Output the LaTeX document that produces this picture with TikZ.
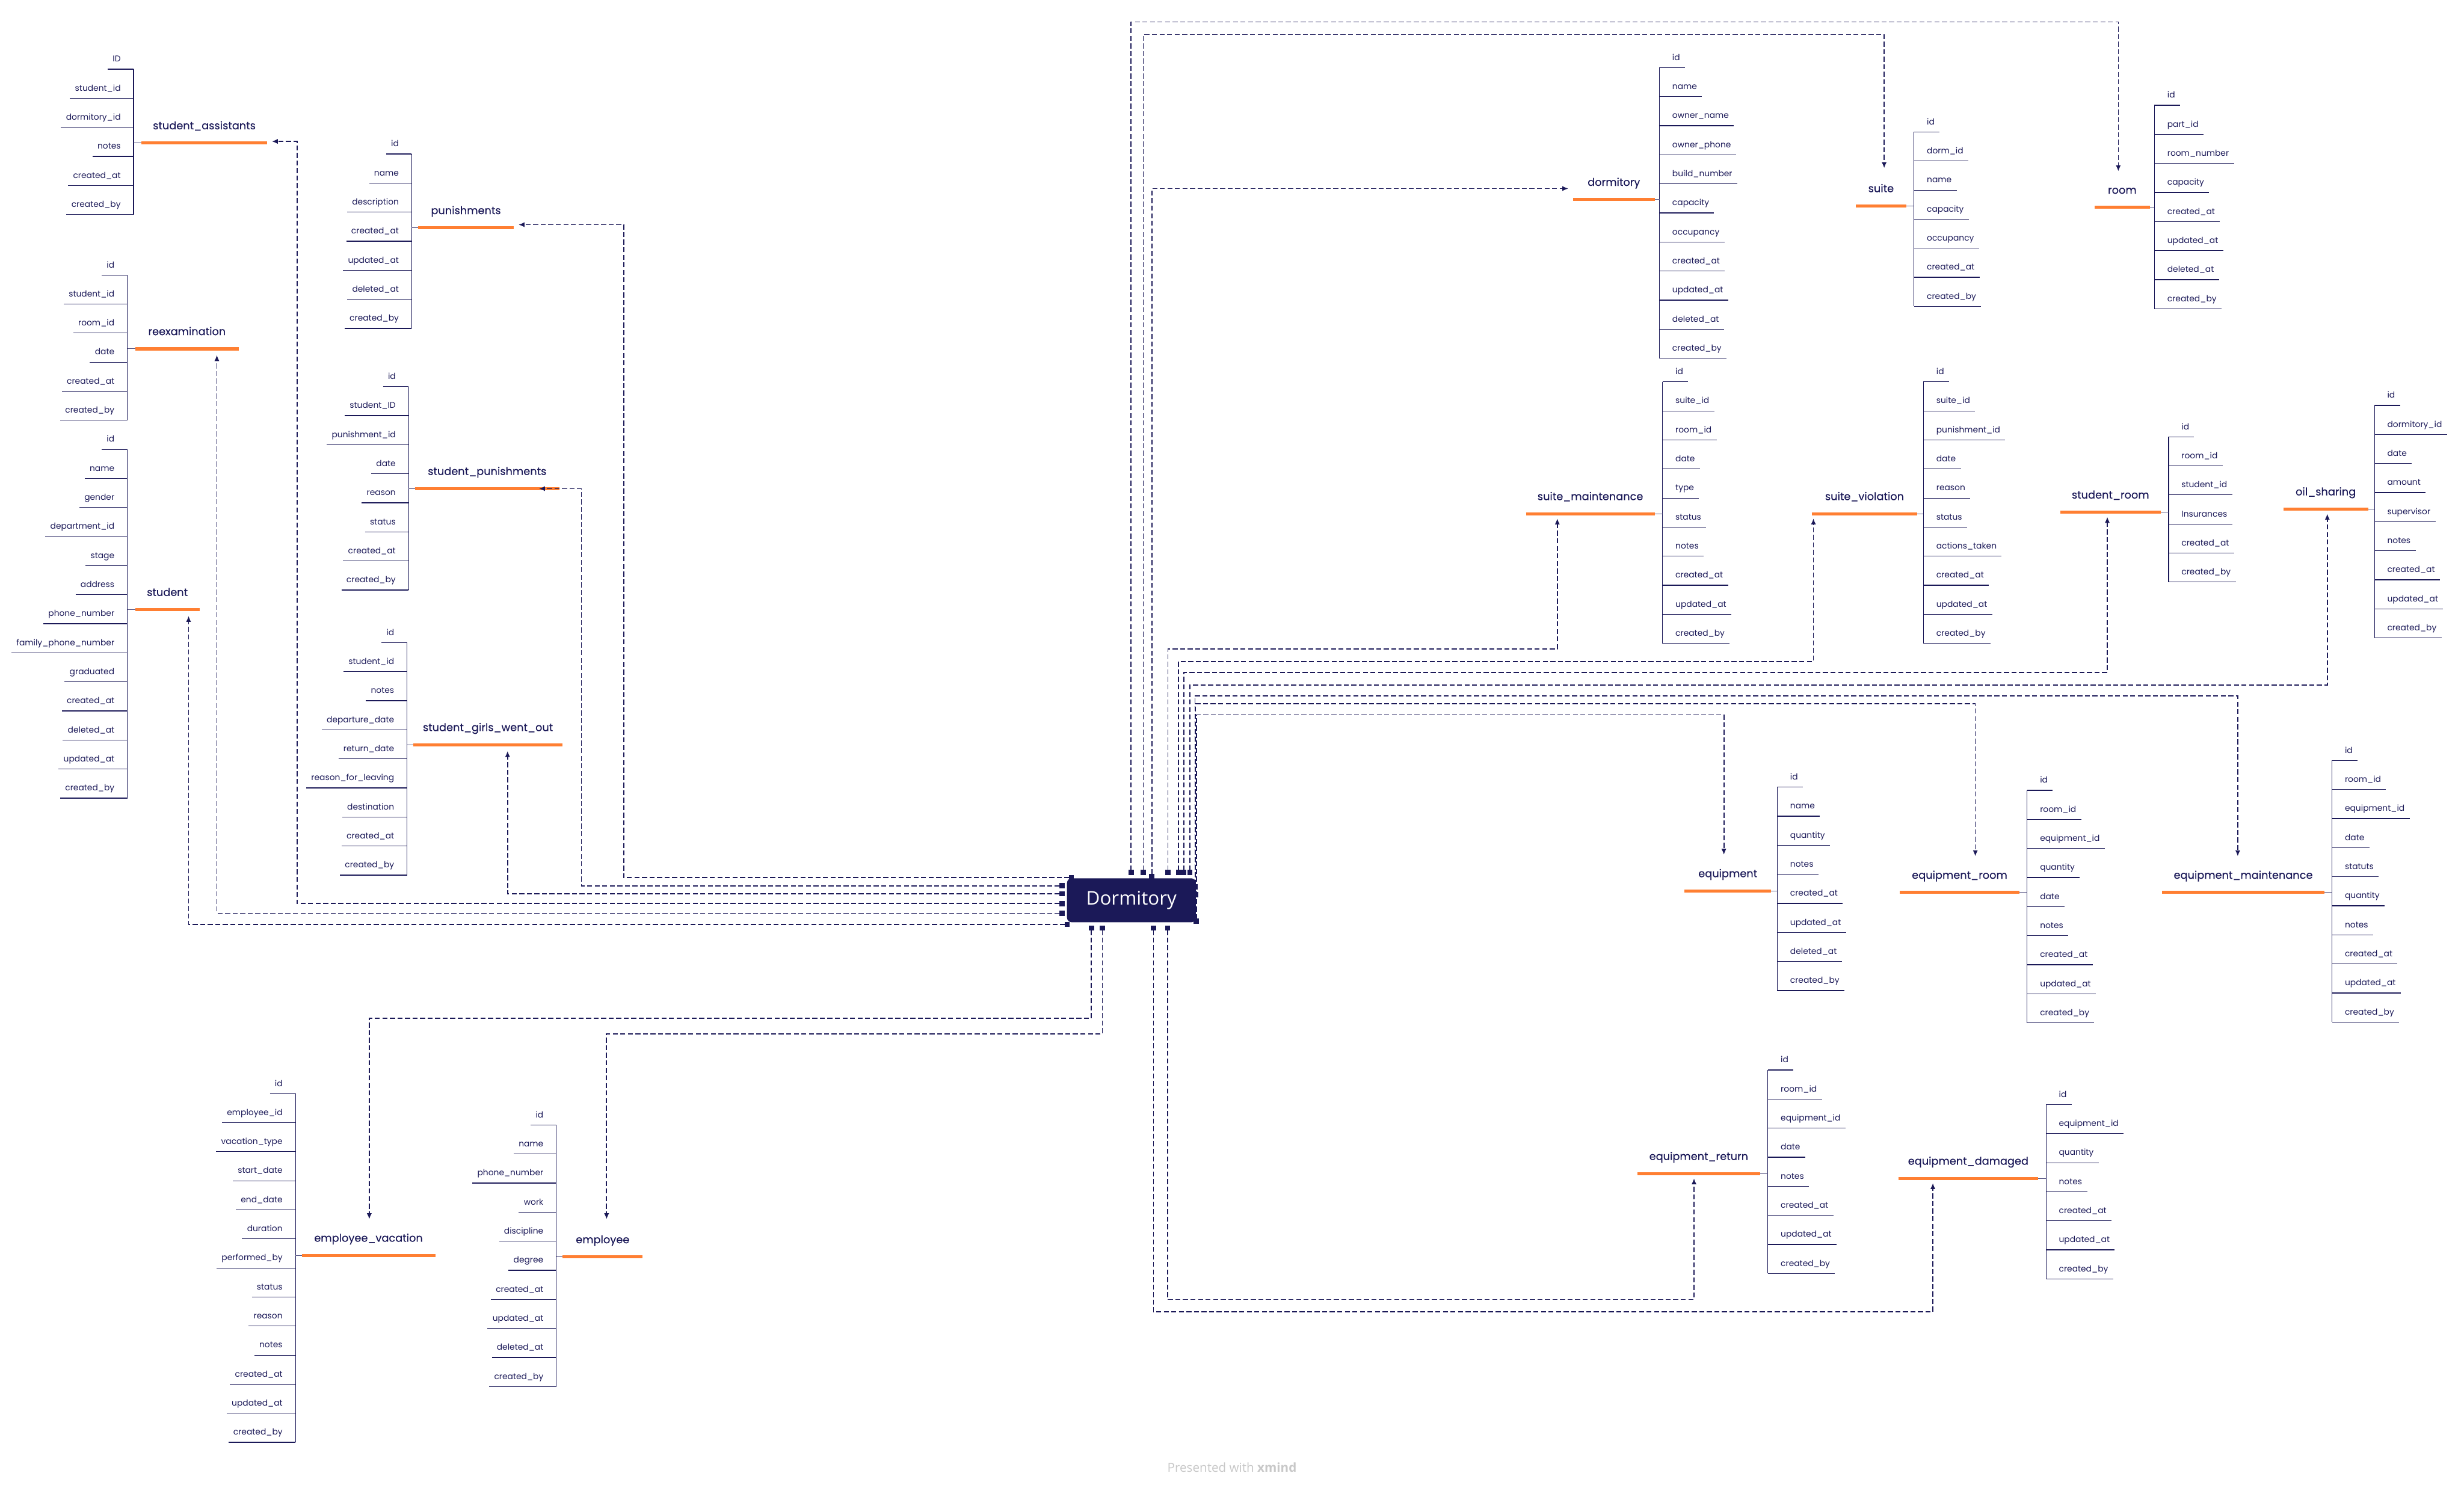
\documentclass[tikz,border=0pt]{standalone}
\usepackage{fontspec}
\setmainfont{Poppins}
\newfontfamily\titlefont{Poppins}[FakeBold=0.25]
\newfontfamily\nodefont{Open Sans}
\usetikzlibrary{arrows.meta,calc}
\definecolor{navy}{RGB}{27,25,88}
\definecolor{barorange}{RGB}{255,127,50}
\definecolor{footergray}{RGB}{200,200,200}

\tikzset{
  fieldtxt/.style={inner sep=0pt, text height=4pt, text depth=1.3pt, font=\fontsize{5.3}{6}\selectfont, text=navy},
  titletxt/.style={inner sep=0pt, text height=5.2pt, text depth=1.6pt, font=\titlefont\fontsize{6.8}{8}\selectfont, text=navy},
  fline/.style={draw=navy, line width=0.45pt},
  barline/.style={draw=barorange, line width=2pt},
  joinline/.style={draw=navy!75, line width=0.4pt},
  rel/.style={draw=navy, line width=0.65pt, dash pattern=on 3.2pt off 1.6pt,
    {Square[length=3.3pt,width=3.3pt]}-{Latex[length=3.8pt,width=3.2pt]}},
  central/.style={fill=navy, rounded corners=3pt, minimum width=82pt, minimum height=28pt,
    text=white, font=\nodefont\fontsize{12}{14}\selectfont, inner sep=0pt},
  footertxt/.style={font=\nodefont\fontsize{7.9}{9}\selectfont, text=footergray, inner sep=0pt},
}

% right table: #1 id, #2 spineX, #3 firstY, #4 fields, #5 title, #6 barL, #7 barR, #8 barY
\newcommand\rtab[8]{%
  \foreach \f [count=\i from 0] in {#4} {
    \node[fieldtxt, anchor=west] (#1-\i) at ({#2+8},{#3+18.5*\i}) {\f};
    \draw[fline] ({#2},{#3+18.5*\i+6}) -- ($(#1-\i.east)+(3,6)$);
    \xdef\lastrow{\i}
  }
  \draw[fline] ({#2},{#3+6}) -- ({#2},{#3+18.5*\lastrow+6});
  \draw[barline] (#6,#8) -- (#7,#8);
  \draw[joinline] (#7,#8) -- (#2,#8);
  \node[titletxt] (#1-title) at ({(#6+#7)/2},{#8-10.5}) {#5};
}
% left table
\newcommand\ltab[8]{%
  \foreach \f [count=\i from 0] in {#4} {
    \node[fieldtxt, anchor=east] (#1-\i) at ({#2-8},{#3+18.5*\i}) {\f};
    \draw[fline] ($(#1-\i.west)+(-3,6)$) -- ({#2},{#3+18.5*\i+6});
    \xdef\lastrow{\i}
  }
  \draw[fline] ({#2},{#3+6}) -- ({#2},{#3+18.5*\lastrow+6});
  \draw[barline] (#6,#8) -- (#7,#8);
  \draw[joinline] (#2,#8) -- (#6,#8);
  \node[titletxt] (#1-title) at ({(#6+#7)/2},{#8-10.5}) {#5};
}

\begin{document}
\begin{tikzpicture}[x=1pt,y=-1pt]
\fill[white] (0,0) rectangle (1568,945);
\useasboundingbox (0,0) rectangle (1568,945);

% ---------- right tables ----------
\rtab{dorm}{1056}{37}{id,name,owner\_name,owner\_phone,build\_number,capacity,occupancy,created\_at,updated\_at,deleted\_at,created\_by}{dormitory}{1001}{1053}{127}
\rtab{suite}{1218}{78}{id,dorm\_id,name,capacity,occupancy,created\_at,created\_by}{suite}{1181}{1213}{131}
\rtab{room}{1371}{61}{id,part\_id,room\_number,capacity,created\_at,updated\_at,deleted\_at,created\_by}{room}{1333}{1368}{132}
\rtab{sm}{1058}{237}{id,suite\_id,room\_id,date,type,status,notes,created\_at,updated\_at,created\_by}{suite\_maintenance}{971}{1053}{327}
\rtab{sv}{1224}{237}{id,suite\_id,punishment\_id,date,reason,status,actions\_taken,created\_at,updated\_at,created\_by}{suite\_violation}{1153}{1220}{327}
\rtab{sr}{1380}{272}{id,room\_id,student\_id,Insurances,created\_at,created\_by}{student\_room}{1311}{1375}{326}
\rtab{oil}{1511}{252}{id,dormitory\_id,date,amount,supervisor,notes,created\_at,updated\_at,created\_by}{oil\_sharing}{1453}{1507}{324}
\rtab{eq}{1131}{495}{id,name,quantity,notes,created\_at,updated\_at,deleted\_at,created\_by}{equipment}{1072}{1127}{567}
\rtab{erm}{1290}{497}{id,room\_id,equipment\_id,quantity,date,notes,created\_at,updated\_at,created\_by}{equipment\_room}{1209}{1285}{568}
\rtab{em}{1484}{478}{id,room\_id,equipment\_id,date,statuts,quantity,notes,created\_at,updated\_at,created\_by}{equipment\_maintenance}{1376}{1479}{568}
\rtab{eret}{1125}{675}{id,room\_id,equipment\_id,date,notes,created\_at,updated\_at,created\_by}{equipment\_return}{1042}{1120}{747}
\rtab{ed}{1302}{697}{id,equipment\_id,quantity,notes,created\_at,updated\_at,created\_by}{equipment\_damaged}{1208}{1297}{750}

% ---------- left tables ----------
\ltab{sa}{85}{38}{ID,student\_id,dormitory\_id,notes,created\_at,created\_by}{student\_assistants}{90}{170}{91}
\ltab{pun}{262}{92}{id,name,description,created\_at,updated\_at,deleted\_at,created\_by}{punishments}{266}{327}{145}
\ltab{reex}{81}{169}{id,student\_id,room\_id,date,created\_at,created\_by}{reexamination}{86}{152}{222}
\ltab{stud}{81}{280}{id,name,gender,department\_id,stage,address,phone\_number,family\_phone\_number,graduated,created\_at,deleted\_at,updated\_at,created\_by}{student}{86}{127}{388}
\ltab{spun}{260}{240}{id,student\_ID,punishment\_id,date,reason,status,created\_at,created\_by}{student\_punishments}{264}{356}{311}
\ltab{sgwo}{259}{403}{id,student\_id,notes,departure\_date,return\_date,reason\_for\_leaving,destination,created\_at,created\_by}{student\_girls\_went\_out}{263}{358}{474}
\ltab{ev}{188}{690}{id,employee\_id,vacation\_type,start\_date,end\_date,duration,performed\_by,status,reason,notes,created\_at,updated\_at,created\_by}{employee\_vacation}{192}{277}{799}
\ltab{emp}{354}{710}{id,name,phone\_number,work,discipline,degree,created\_at,updated\_at,deleted\_at,created\_by}{employee}{358}{409}{800}

% ---------- central node ----------
\node[central] (D) at (720,573) {Dormitory};

% connector start points (on the central node)
\coordinate (s-pun)  at (683.5,558.6);
\coordinate (s-spun) at (677.4,563.8);
\coordinate (s-sgwo) at (677.4,568.9);
\coordinate (s-sa)   at (677.4,575.1);
\coordinate (s-reex) at (677.4,581.3);
\coordinate (s-stud) at (680.8,588.4);
\coordinate (s-room) at (719.8,557);
\coordinate (s-suite) at (727.5,557);
\coordinate (s-dorm) at (733,559.5);
\coordinate (s-sm)   at (743.2,557);
\coordinate (s-sv)   at (750,557);
\coordinate (s-sr)   at (753.3,557);
\coordinate (s-oil)  at (757.2,557);
\coordinate (s-em)   at (760.4,566);
\coordinate (s-erm)  at (760.8,571);
\coordinate (s-eq)   at (761.3,588);
\coordinate (s-ev)   at (694.5,589);
\coordinate (s-emp)  at (701.5,589);
\coordinate (s-ed)   at (734,589);
\coordinate (s-eret) at (743,589);

% connector end points (at the tables' bars)
\coordinate (e-pun)  at (330,143);
\coordinate (e-spun) at (343,311);
\coordinate (e-sgwo) at (323,478);
\coordinate (e-sa)   at (173,90);
\coordinate (e-reex) at (138,226);
\coordinate (e-stud) at (120,392);
\coordinate (e-room) at (1348,109);
\coordinate (e-suite) at (1199,107);
\coordinate (e-dorm) at (998,120);
\coordinate (e-sm)   at (991,330);
\coordinate (e-sv)   at (1154,330);
\coordinate (e-sr)   at (1341,329);
\coordinate (e-oil)  at (1481,327);
\coordinate (e-em)   at (1424,545);
\coordinate (e-erm)  at (1257,545);
\coordinate (e-eq)   at (1097,544);
\coordinate (e-ev)   at (235,776);
\coordinate (e-emp)  at (386,776);
\coordinate (e-ed)   at (1230,753);
\coordinate (e-eret) at (1078,750);

% ---------- connectors ----------
\draw[rel] (s-pun)  -- ++(-286.5,0) |- (e-pun);
\draw[rel] (s-spun) -- ++(-307.4,0) |- (e-spun);
\draw[rel] (s-sgwo) -| (e-sgwo);
\draw[rel] (s-sa)   -- ++(-488.4,0) |- (e-sa);
\draw[rel] (s-reex) -| (e-reex);
\draw[rel] (s-stud) -| (e-stud);

\draw[rel] (s-room)  -- ++(0,-543) -| (e-room);
\draw[rel] (s-suite) -- ++(0,-535) -| (e-suite);
\draw[rel] (s-dorm)  |- (e-dorm);
\draw[rel] (s-sm)  -- ++(0,-144) -| (e-sm);
\draw[rel] (s-sv)  -- ++(0,-136) -| (e-sv);
\draw[rel] (s-sr)  -- ++(0,-129) -| (e-sr);
\draw[rel] (s-oil) -- ++(0,-121) -| (e-oil);
\draw[rel] (s-em)  -- ++(0,-123) -| (e-em);
\draw[rel] (s-erm) -- ++(0,-123) -| (e-erm);
\draw[rel] (s-eq)  -- ++(0,-133) -| (e-eq);

\draw[rel] (s-ev)   -- ++(0,59)  -| (e-ev);
\draw[rel] (s-emp)  -- ++(0,69)  -| (e-emp);
\draw[rel] (s-ed)   -- ++(0,246) -| (e-ed);
\draw[rel] (s-eret) -- ++(0,238) -| (e-eret);

% ---------- footer ----------
\node[footertxt] (footer) at (784,934) {Presented with \textbf{xmind}};
\end{tikzpicture}
\end{document}
